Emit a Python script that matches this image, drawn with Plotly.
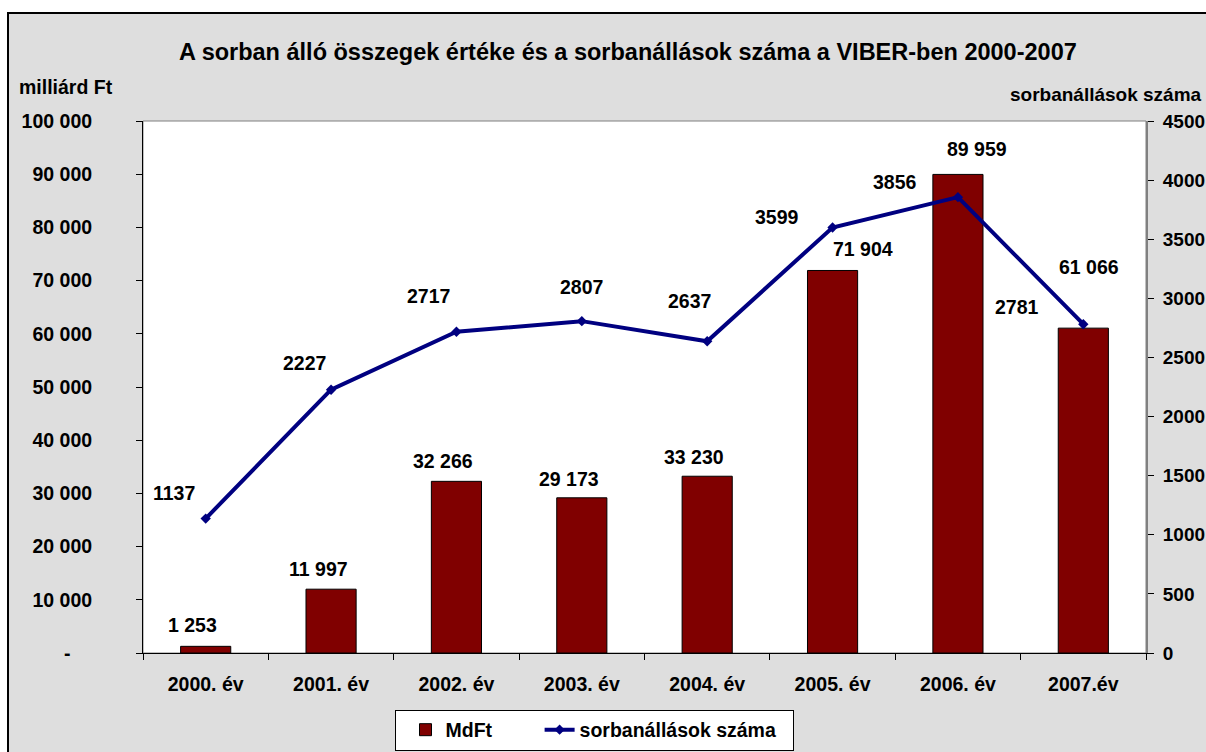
import plotly.graph_objects as go

# ---- data ----
categories = ["2000. év", "2001. év", "2002. év", "2003. év", "2004. év", "2005. év", "2006. év", "2007.év"]
mdft_values = [1253, 11997, 32266, 29173, 33230, 71904, 89959, 61066]
queue_counts = [1137, 2227, 2717, 2807, 2637, 3599, 3856, 2781]
left_tickvals = [0, 10000, 20000, 30000, 40000, 50000, 60000, 70000, 80000, 90000, 100000]
left_ticktext = ["-\u2007\u2007", "10 000", "20 000", "30 000", "40 000", "50 000",
                 "60 000", "70 000", "80 000", "90 000", "100 000"]
right_tickvals = [0, 500, 1000, 1500, 2000, 2500, 3000, 3500, 4000, 4500]

title_text = "A sorban álló összegek értéke és a sorbanállások száma a VIBER-ben 2000-2007"
left_title = "milliárd Ft"
right_title = "sorbanállások száma"
bar_series_name = "MdFt"
line_series_name = "sorbanállások száma"

# label offsets in pixels (dx, dy upward) – styling only
bar_label_offsets = [(-13, 21), (-13, 20), (-13, 20), (-13, 19), (-13, 19), (30, 21), (19, 25), (6, 61)]
line_label_offsets = [(-32, 26), (-27, 27), (-28, 36), (0, 34), (-18, 40), (-56, 11), (-63, 15), (-66, 17)]

FONT = "Arial, 'Liberation Sans', sans-serif"
FS = 19.5

W, H = 1206, 752
L, R, T, B = 143, 60, 121, 99
PW, PH = W - L - R, H - T - B


def px(xp):
    return (xp - L) / PW


def py(yp):
    return (H - B - yp) / PH


def fmt(v):
    return f"{v:,}".replace(",", " ")


def bold(size=FS):
    return dict(family=FONT, size=size, color="black", weight="bold")


fig = go.Figure()
fig.add_trace(go.Bar(
    x=categories, y=mdft_values, name=bar_series_name + "\u2007\u2007\u2007", width=0.4,
    marker=dict(color="#800000", line=dict(color="#000000", width=1)),
    yaxis="y",
))
fig.add_trace(go.Scatter(
    x=categories, y=queue_counts, name=line_series_name + "\u2007", mode="lines+markers",
    line=dict(color="#000080", width=4),
    marker=dict(symbol="diamond", size=8, color="#000080"),
    yaxis="y2",
))

annotations = []
for c, v, (dx, dy) in zip(categories, mdft_values, bar_label_offsets):
    annotations.append(dict(x=c, y=v, xref="x", yref="y", text=fmt(v), showarrow=False,
                            xanchor="center", yanchor="middle", xshift=dx, yshift=dy,
                            font=bold()))
for c, v, (dx, dy) in zip(categories, queue_counts, line_label_offsets):
    annotations.append(dict(x=c, y=v, xref="x", yref="y2", text=str(v), showarrow=False,
                            xanchor="center", yanchor="middle", xshift=dx, yshift=dy,
                            font=bold()))

annotations.append(dict(x=px(628), y=py(52), xref="paper", yref="paper", text=title_text,
                        showarrow=False, xanchor="center", yanchor="middle", font=bold(23.5)))
annotations.append(dict(x=px(17), y=py(87), xref="paper", yref="paper", text=left_title,
                        showarrow=False, xanchor="left", yanchor="middle", font=bold()))
annotations.append(dict(x=px(1008), y=py(95), xref="paper", yref="paper", text=right_title,
                        showarrow=False, xanchor="left", yanchor="middle", font=bold(19)))

shapes = [
    # chart area (textured grey in the original) with black frame
    dict(type="rect", xref="paper", yref="paper", x0=px(8), x1=px(1230), y0=py(780), y1=py(13),
         fillcolor="#dedede", line=dict(color="black", width=2), layer="below"),
    # plot area
    dict(type="rect", xref="paper", yref="paper", x0=0, x1=1, y0=0, y1=1,
         fillcolor="white", line=dict(color="#808080", width=1), layer="below"),
]

fig.update_layout(
    width=W, height=H,
    margin=dict(l=L, r=R, t=T, b=B, autoexpand=False),
    paper_bgcolor="white", plot_bgcolor="rgba(0,0,0,0)",
    font=bold(),
    shapes=shapes, annotations=annotations,
    xaxis=dict(type="category", range=[-0.5, 7.5], showgrid=False, zeroline=False,
               showline=True, linecolor="black", linewidth=1,
               ticks="outside", ticklen=6, tickcolor="black", tickson="boundaries",
               ticklabelstandoff=14, tickfont=bold()),
    yaxis=dict(range=[0, 100000], tickvals=left_tickvals, ticktext=left_ticktext,
               showgrid=False, zeroline=False, showline=True, linecolor="black", linewidth=1,
               ticks="outside", ticklen=6, tickcolor="black", ticklabelstandoff=40,
               tickfont=bold()),
    yaxis2=dict(range=[0, 4500], tickvals=right_tickvals, overlaying="y", side="right",
                showgrid=False, zeroline=False, showline=True, linecolor="#808080", linewidth=2,
                ticks="outside", ticklen=6, tickcolor="black", ticklabelstandoff=5,
                tickfont=bold(19)),
    yaxis3=dict(range=[0, 100000], tickvals=left_tickvals, overlaying="y", side="left",
                showgrid=False, zeroline=False, showline=False, showticklabels=False,
                ticks="inside", ticklen=6, tickcolor="black"),
    yaxis4=dict(range=[0, 4500], tickvals=right_tickvals, overlaying="y", side="right",
                showgrid=False, zeroline=False, showline=False, showticklabels=False,
                ticks="inside", ticklen=6, tickcolor="black"),
    xaxis2=dict(type="category", range=[-0.5, 7.5], overlaying="x", side="bottom",
                showgrid=False, zeroline=False, showline=False, showticklabels=False,
                ticks="inside", ticklen=6, tickcolor="black", tickson="boundaries",
                categoryarray=categories, categoryorder="array"),
    legend=dict(orientation="h", x=px(594), y=py(730), xanchor="center", yanchor="middle",
                bgcolor="white", bordercolor="black", borderwidth=1,
                font=bold(), itemwidth=30, indentation=10),
    showlegend=True,
)

fig.write_html(
    "out.html",
    config={"displayModeBar": False},
    post_script="document.body.style.margin='0';document.body.style.overflow='hidden';",
)
